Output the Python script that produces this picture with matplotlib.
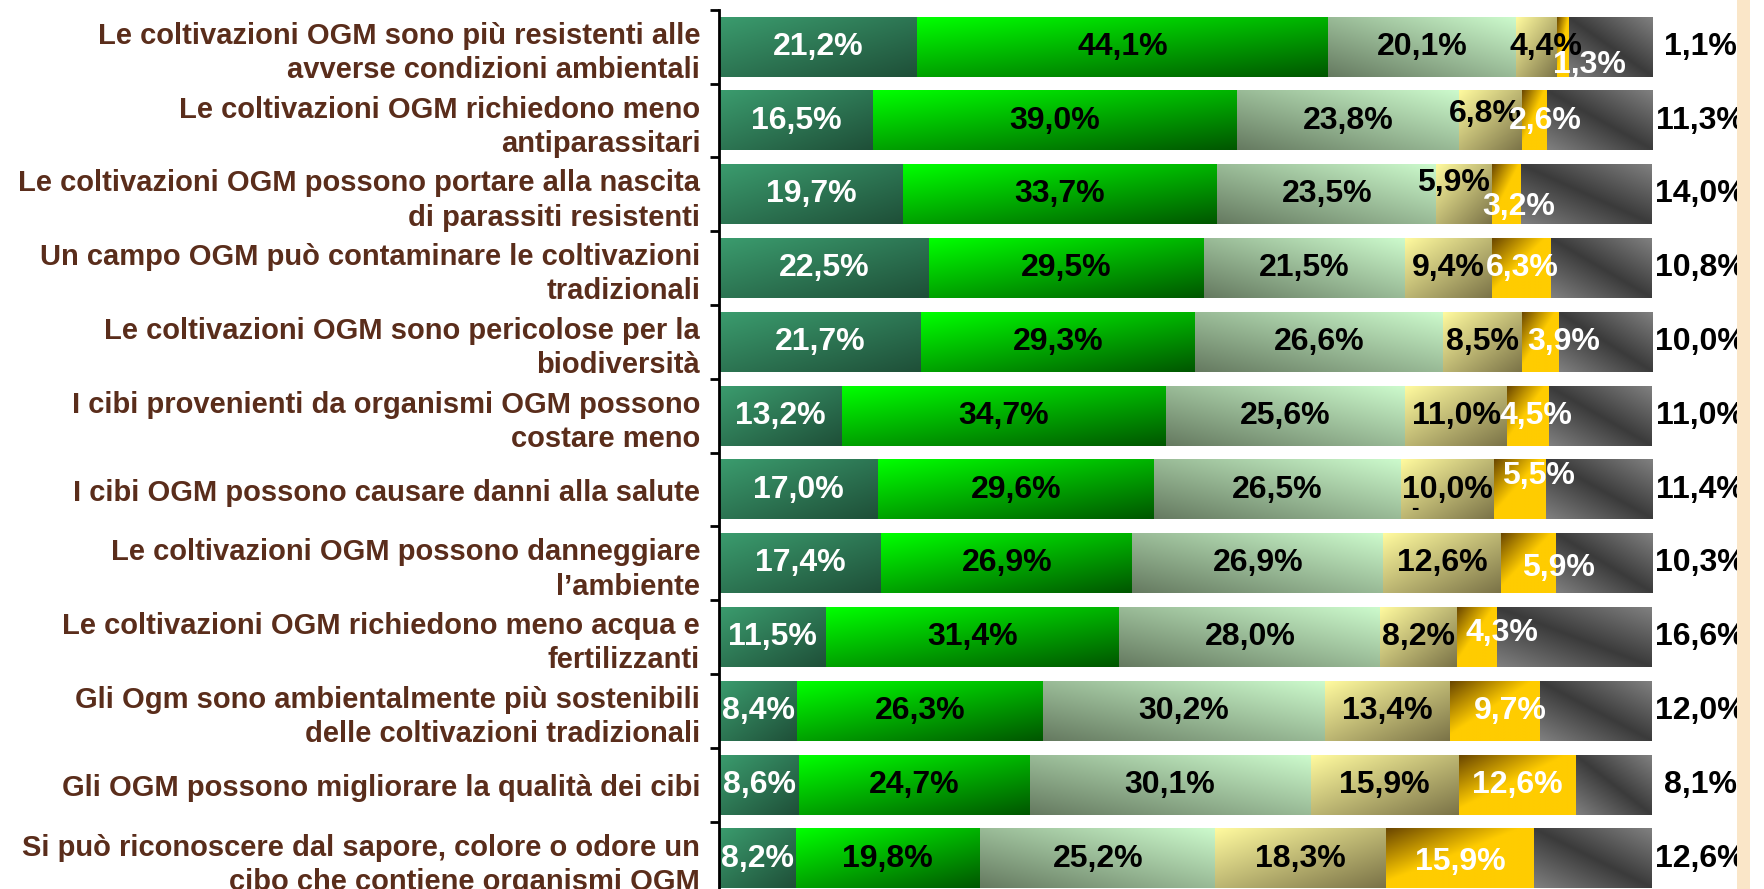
import numpy as np
import matplotlib
matplotlib.use("Agg")
import matplotlib.pyplot as plt
from matplotlib.patches import Rectangle

# Data
categories = [
    "Le coltivazioni OGM sono più resistenti alle\navverse condizioni ambientali",
    "Le coltivazioni OGM richiedono meno\nantiparassitari",
    "Le coltivazioni OGM possono portare alla nascita\ndi parassiti resistenti",
    "Un campo OGM può contaminare le coltivazioni\ntradizionali",
    "Le coltivazioni OGM sono pericolose per la\nbiodiversità",
    "I cibi provenienti da organismi OGM possono\ncostare meno",
    "I cibi OGM possono causare danni alla salute",
    "Le coltivazioni OGM possono danneggiare\nl’ambiente",
    "Le coltivazioni OGM richiedono meno acqua e\nfertilizzanti",
    "Gli Ogm sono ambientalmente più sostenibili\ndelle coltivazioni tradizionali",
    "Gli OGM possono migliorare la qualità dei cibi",
    "Si può riconoscere dal sapore, colore o odore un\ncibo che contiene organismi OGM",
]
s1 = [21.2, 16.5, 19.7, 22.5, 21.7, 13.2, 17.0, 17.4, 11.5, 8.4, 8.6, 8.2]
s2 = [44.1, 39.0, 33.7, 29.5, 29.3, 34.7, 29.6, 26.9, 31.4, 26.3, 24.7, 19.8]
s3 = [20.1, 23.8, 23.5, 21.5, 26.6, 25.6, 26.5, 26.9, 28.0, 30.2, 30.1, 25.2]
s4 = [4.4, 6.8, 5.9, 9.4, 8.5, 11.0, 10.0, 12.6, 8.2, 13.4, 15.9, 18.3]
s5 = [1.3, 2.6, 3.2, 6.3, 3.9, 4.5, 5.5, 5.9, 4.3, 9.7, 12.6, 15.9]
s6 = [8.9, 11.3, 14.0, 10.8, 10.0, 11.0, 11.4, 10.3, 16.6, 12.0, 8.1, 12.6]
right_labels = ["1,1%", "11,3%", "14,0%", "10,8%", "10,0%", "11,0%",
                "11,4%", "10,3%", "16,6%", "12,0%", "8,1%", "12,6%"]

series = [s1, s2, s3, s4, s5, s6]
text_colors = ["white", "black", "black", "black", "white", None]

# manual label nudges (row, series) -> (dx, dy)
nudges = {
    (0, 3): (1.0, 0.0), (0, 4): (2.8, 0.25),
    (1, 3): (-0.6, -0.09), (1, 4): (1.2, 0.0),
    (2, 3): (-1.1, -0.15), (2, 4): (1.3, 0.17),
    (4, 4): (2.5, 0.0), (5, 4): (0.8, 0.0),
    (6, 4): (2.0, -0.18), (7, 4): (3.2, 0.06),
    (8, 4): (2.7, -0.05), (9, 4): (1.7, 0.0),
    (11, 4): (0.0, 0.05),
}


def gradient(k, n=40, m=80):
    u, v = np.meshgrid(np.linspace(0, 1, m), np.linspace(0, 1, n))
    def mix(a, b, t):
        a, b = np.array(a), np.array(b)
        return a + (b - a) * t[..., None]
    if k == 0:
        return mix((0.23, 0.61, 0.43), (0.12, 0.31, 0.22), (u + v) / 2)
    if k == 1:
        return mix((0.0, 1.0, 0.0), (0.0, 0.34, 0.0), 0.45 * u + 0.55 * v)
    if k == 2:
        return mix((0.80, 0.98, 0.80), (0.40, 0.48, 0.38), ((1 - u) + v) / 2)
    if k == 3:
        return mix((1.0, 0.98, 0.62), (0.48, 0.45, 0.28), (u + v) / 2)
    if k == 4:
        t = np.clip((u + v) / 2 / 0.45, 0, 1)
        return mix((0.42, 0.28, 0.0), (1.0, 0.80, 0.0), t)
    return mix((0.23, 0.23, 0.23), (0.50, 0.50, 0.50), np.abs(u - v))


fig = plt.figure(figsize=(17.64, 8.89), dpi=100)
ax = fig.add_axes([719 / 1764, -0.0073, 933 / 1764, 0.9962])

y = np.arange(len(categories))
bar_h = 0.81
left = np.zeros(len(categories))
for k, vals in enumerate(series):
    bars = ax.barh(y, vals, left=left, height=bar_h, color="none", edgecolor="none")
    img = gradient(k)
    for i, b in enumerate(bars):
        x0, y0, w, h = b.get_x(), b.get_y(), b.get_width(), b.get_height()
        ax.imshow(img, extent=(x0, x0 + w, y0 + h, y0), origin="upper",
                  aspect="auto", interpolation="bilinear", zorder=2)
        if text_colors[k] is not None:
            dx, dy = nudges.get((i, k), (0, 0))
            ax.text(x0 + w / 2 + dx, y[i] + dy, f"{vals[i]:.1f}%".replace(".", ","),
                    ha="center", va="center", color=text_colors[k],
                    fontsize=23, fontweight="bold", family="Liberation Sans",
                    zorder=5)
    left = left + np.array(vals)

for i, lab in enumerate(right_labels):
    ax.text(105.2, y[i], lab, ha="center", va="center", color="black",
            fontsize=23, fontweight="bold", family="Liberation Sans",
            clip_on=False)

# stray dash in the original chart
ax.text(74.6, 6.26, "-", ha="center", va="center", fontsize=16,
        fontweight="bold", family="Liberation Sans", zorder=5)

ax.set_xlim(0, 100)
ax.set_ylim(len(categories) - 0.5, -0.5)
ax.set_yticks(y)
ax.set_yticklabels(categories, fontsize=21, fontweight="bold",
                   family="Liberation Sans", color="#5a2d1b", linespacing=1.28)
ax.set_yticks(np.arange(-0.5, len(categories)), minor=True)
ax.tick_params(axis="y", which="major", length=0, pad=13.5)
ax.tick_params(axis="y", which="minor", length=6.5, width=2, direction="out")
ax.set_xticks([])
for s in ["top", "right", "bottom"]:
    ax.spines[s].set_visible(False)
ax.spines["left"].set_linewidth(2)

# beige strip on the right edge
fig.patches.append(Rectangle((1737 / 1764, 0), 13 / 1764, 1, transform=fig.transFigure,
                             facecolor="#fae6c8", edgecolor="none"))

fig.savefig("out.png", dpi=100)
